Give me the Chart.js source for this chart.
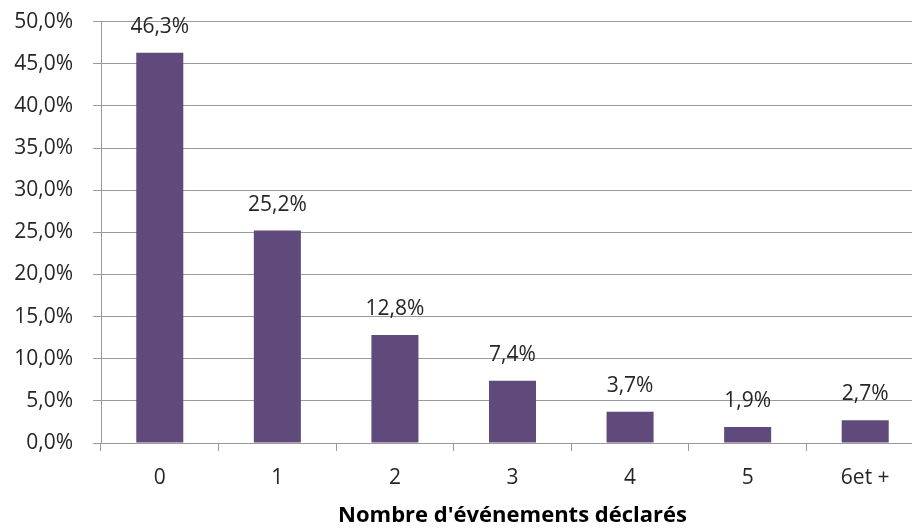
<!DOCTYPE html>
<html>
<head>
<meta charset="utf-8">
<script src="https://cdn.jsdelivr.net/npm/chart.js@4/dist/chart.umd.min.js"></script>
<style>
  html, body { margin: 0; padding: 0; background: #fff; overflow: hidden; }
  #wrap { width: 924px; height: 529px; overflow: hidden; }
  #chart { display: block; margin-top: -11px; }
</style>
</head>
<body>
<div id="wrap"><canvas id="chart" width="924" height="540"></canvas></div>
<script>
// valeurs
const categories = ['0', '1', '2', '3', '4', '5', '6et +'];
const values = [46.3, 25.2, 12.8, 7.4, 3.7, 1.9, 2.7];
const axisTitle = "Nombre d'événements déclarés";

const fmt = v => v.toFixed(1).replace('.', ',') + '%';
const textColor = '#262626';
const gridColor = '#9a9a9a';
const FONT = '"Open Sans", "Noto Sans", sans-serif';

// étiquettes au-dessus des barres
const barLabels = {
  id: 'barLabels',
  afterDatasetsDraw(chart) {
    const ctx = chart.ctx;
    const meta = chart.getDatasetMeta(0);
    ctx.save();
    ctx.font = '21px ' + FONT;
    ctx.fillStyle = textColor;
    ctx.textAlign = 'center';
    ctx.textBaseline = 'middle';
    meta.data.forEach((bar, i) => {
      ctx.fillText(fmt(values[i]), bar.x, bar.y - 26);
    });
    ctx.restore();
  }
};

new Chart(document.getElementById('chart'), {
  type: 'bar',
  data: {
    labels: categories,
    datasets: [{
      data: values,
      backgroundColor: '#604a7b',
      barPercentage: 0.4,
      categoryPercentage: 1.0
    }]
  },
  options: {
    responsive: false,
    animation: false,
    layout: { padding: { top: 0, left: 0, right: 0, bottom: 0 } },
    plugins: {
      legend: { display: false },
      tooltip: { enabled: false }
    },
    scales: {
      x: {
        grid: {
          offset: true,
          drawOnChartArea: false,
          drawTicks: true,
          tickLength: 8,
          color: gridColor
        },
        border: { color: gridColor },
        ticks: {
          color: textColor,
          font: { family: FONT, size: 21 },
          padding: 14,
          maxRotation: 0
        },
        title: {
          display: true,
          text: axisTitle,
          color: '#000',
          font: { family: FONT, size: 22, weight: 'bold' },
          padding: { top: 10, bottom: 0 }
        },
        afterFit(scale) { scale.height = 86; }
      },
      y: {
        min: 0,
        max: 50,
        ticks: {
          stepSize: 5,
          color: textColor,
          font: { family: FONT, size: 21 },
          padding: 20,
          callback: v => fmt(v)
        },
        grid: {
          color: gridColor,
          tickLength: 8
        },
        border: { color: gridColor },
        afterFit(scale) { scale.width = 101; }
      }
    }
  },
  plugins: [barLabels]
});
</script>
</body>
</html>
